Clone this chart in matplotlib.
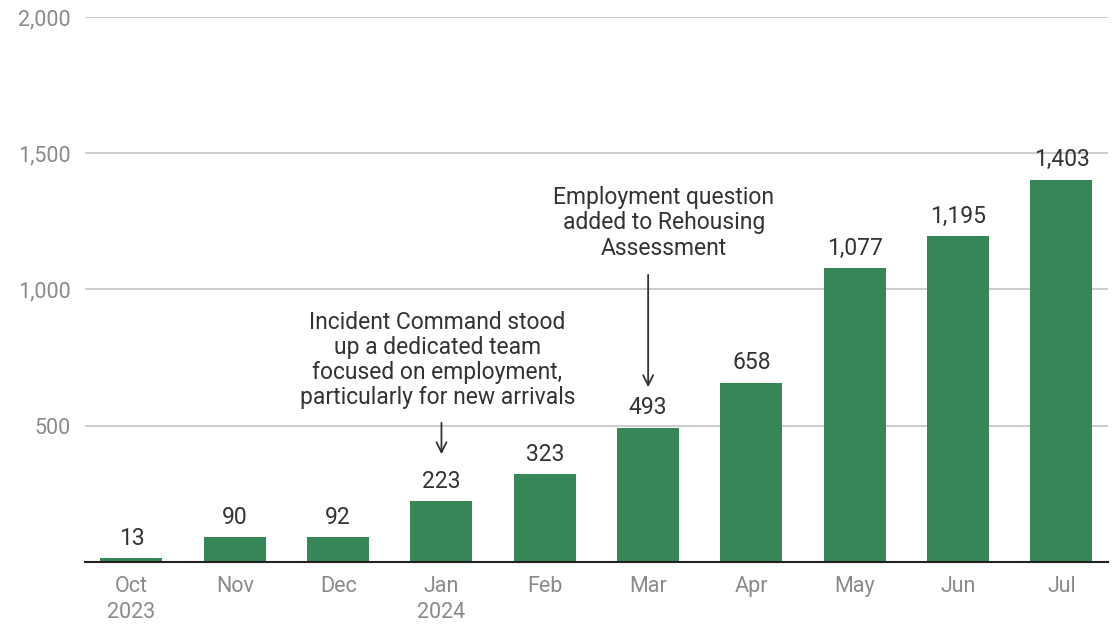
import matplotlib.pyplot as plt
from matplotlib.ticker import FuncFormatter

plt.rcParams['font.family'] = ['Roboto', 'DejaVu Sans']

months = ['Oct\n2023', 'Nov', 'Dec', 'Jan\n2024', 'Feb', 'Mar', 'Apr', 'May', 'Jun', 'Jul']
values = [13, 90, 92, 223, 323, 493, 658, 1077, 1195, 1403]
yticks = [500, 1000, 1500, 2000]

bar_color = '#368657'
text_color = '#333333'
tick_color = '#8a8a8a'

fig = plt.figure(figsize=(11.12, 6.24), dpi=100)
ax = fig.add_axes([0.0764, 0.0994, 0.9200, 0.8734])

x = list(range(len(months)))
bars = ax.bar(x, values, width=0.6, color=bar_color, zorder=3)

# value labels
for xi, v in zip(x, values):
    ax.annotate(f'{v:,}', (xi, v), xytext=(0, 6), textcoords='offset points',
                ha='center', va='bottom', fontsize=16.5, color=text_color, zorder=4)

ax.set_xlim(-0.45, 9.45)
ax.set_ylim(0, 2000)
ax.set_yticks(yticks)
ax.yaxis.set_major_formatter(FuncFormatter(lambda v, p: f'{int(v):,}'))
ax.set_xticks(x)
ax.set_xticklabels(months, linespacing=1.3)
ax.tick_params(axis='both', length=0, labelsize=15.5, labelcolor=tick_color)
ax.tick_params(axis='x', pad=10)
ax.tick_params(axis='y', pad=10)
ax.grid(axis='y', color='#c8c8c8', linewidth=1.3, zorder=0)

for s in ['top', 'right', 'left']:
    ax.spines[s].set_visible(False)
ax.spines['bottom'].set_color('#222222')
ax.spines['bottom'].set_linewidth(1.5)
ax.spines['bottom'].set_zorder(5)

# annotations
ax.annotate('', xy=(3, 385), xytext=(3, 521),
            arrowprops=dict(arrowstyle='->', color=text_color, lw=1.3, mutation_scale=18))
ax.text(2.96, 741, 'Incident Command stood\nup a dedicated team\nfocused on employment,\nparticularly for new arrivals',
        ha='center', va='center', fontsize=16.5, color=text_color, linespacing=1.12,
        bbox=dict(facecolor='white', edgecolor='none', pad=1))

ax.annotate('', xy=(5, 631), xytext=(5, 1064),
            arrowprops=dict(arrowstyle='->', color=text_color, lw=1.3, mutation_scale=18))
ax.text(5.15, 1244, 'Employment question\nadded to Rehousing\nAssessment',
        ha='center', va='center', fontsize=16.5, color=text_color, linespacing=1.12,
        bbox=dict(facecolor='white', edgecolor='none', pad=1))

plt.savefig('out.png', dpi=100)
